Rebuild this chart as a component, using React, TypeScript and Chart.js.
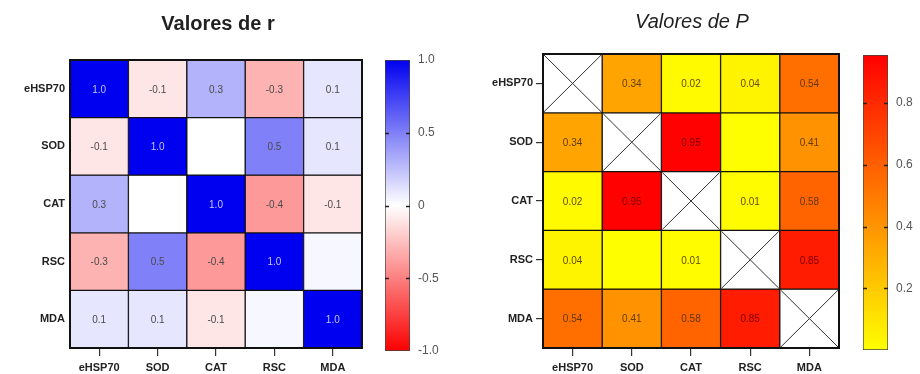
import { useEffect, useRef } from 'react';
import { Chart, registerables } from 'chart.js';

Chart.register(...registerables);

const FONT = 'Liberation Sans, Arial, Helvetica, sans-serif';
Chart.defaults.font.family = FONT;

// ---------- data ----------
const CATEGORIES = ['eHSP70', 'SOD', 'CAT', 'RSC', 'MDA'];

const R_EHSP70 = [1.0, -0.1, 0.3, -0.3, 0.1];
const R_SOD = [-0.1, 1.0, 0.0, 0.5, 0.1];
const R_CAT = [0.3, 0.0, 1.0, -0.4, -0.1];
const R_RSC = [-0.3, 0.5, -0.4, 1.0, 0.03];
const R_MDA = [0.1, 0.1, -0.1, 0.03, 1.0];
const R_MATRIX = [R_EHSP70, R_SOD, R_CAT, R_RSC, R_MDA];

const P_EHSP70 = [null, 0.34, 0.02, 0.04, 0.54];
const P_SOD = [0.34, null, 0.95, 0.004, 0.41];
const P_CAT = [0.02, 0.95, null, 0.01, 0.58];
const P_RSC = [0.04, 0.004, 0.01, null, 0.85];
const P_MDA = [0.54, 0.41, 0.58, 0.85, null];
const P_MATRIX = [P_EHSP70, P_SOD, P_CAT, P_RSC, P_MDA];

const R_RANGE = [-1, 1];
const R_TICKS = [-1, -0.5, 0, 0.5, 1];
const R_TICK_LABELS = ['-1.0', '-0.5', '0', '0.5', '1.0'];

const P_RANGE = [0, 0.956];
const P_TICKS = [0.2, 0.4, 0.6, 0.8];
const P_TICK_LABELS = ['0.2', '0.4', '0.6', '0.8'];

const TITLE_R = 'Valores de r';
const TITLE_P = 'Valores de P';

// ---------- colour maps ----------
const mix = (a: number[], b: number[], t: number) =>
  `rgb(${Math.round(a[0] + (b[0] - a[0]) * t)},${Math.round(a[1] + (b[1] - a[1]) * t)},${Math.round(a[2] + (b[2] - a[2]) * t)})`;

const WHITE = [255, 255, 255];
const BLUE = [0, 0, 240];
const RED = [250, 0, 0];
const YELLOW = [255, 255, 0];

const rColor = (v: number | null) => {
  if (v == null) return '#fff';
  const t = Math.max(-1, Math.min(1, v));
  return t >= 0 ? mix(WHITE, BLUE, t) : mix(WHITE, RED, -t);
};
const pColor = (v: number | null) => {
  if (v == null) return '#fff';
  const t = Math.max(0, Math.min(1, (v - P_RANGE[0]) / (P_RANGE[1] - P_RANGE[0])));
  return mix(YELLOW, [255, 0, 0], t);
};

// ---------- heatmap config ----------
type HeatOpts = {
  matrix: (number | null)[][];
  colorFn: (v: number | null) => string;
  labelFn: (v: number) => string | null;
  textColorFn: (v: number) => string;
  title: string;
  titleFont: any;
  titlePad: { top: number; bottom: number };
  yWidth: number;
  rightWidth: number;
  yTicks: boolean;
};

function heatmapConfig(o: HeatOpts): any {
  const n = CATEGORIES.length;
  const axisFont = { size: 11, weight: 'bold' as const, family: FONT };
  const cellPlugin = {
    id: 'cells',
    afterDatasetsDraw(chart: any) {
      const ctx = chart.ctx;
      ctx.save();
      chart.data.datasets.forEach((ds: any, r: number) => {
        const meta = chart.getDatasetMeta(r);
        meta.data.forEach((el: any, c: number) => {
          const v = ds.values[c];
          const p = el.getProps(['x', 'y', 'base', 'width'], true);
          const top = Math.min(p.y, p.base);
          const bottom = Math.max(p.y, p.base);
          const left = p.x - p.width / 2;
          const right = p.x + p.width / 2;
          if (v == null) {
            ctx.strokeStyle = '#333';
            ctx.lineWidth = 1;
            ctx.beginPath();
            ctx.moveTo(left + 1, top + 1);
            ctx.lineTo(right - 1, bottom - 1);
            ctx.moveTo(right - 1, top + 1);
            ctx.lineTo(left + 1, bottom - 1);
            ctx.stroke();
          } else {
            const txt = o.labelFn(v);
            if (txt) {
              ctx.fillStyle = o.textColorFn(v);
              ctx.font = `10px ${FONT}`;
              ctx.textAlign = 'center';
              ctx.textBaseline = 'middle';
              ctx.fillText(txt, p.x, (top + bottom) / 2 + 1);
            }
          }
        });
      });
      const a = chart.chartArea;
      ctx.strokeStyle = '#111';
      ctx.lineWidth = 2;
      ctx.strokeRect(a.left, a.top, a.right - a.left, a.bottom - a.top);
      ctx.restore();
    },
  };

  return {
    type: 'bar',
    data: {
      labels: CATEGORIES,
      datasets: o.matrix.map((row, r) => ({
        label: CATEGORIES[r],
        values: row,
        data: row.map(() => [r - 0.5, r + 0.5]),
        backgroundColor: row.map(o.colorFn),
        borderColor: '#111',
        borderWidth: 1,
        borderSkipped: false,
        grouped: false,
        barPercentage: 1,
        categoryPercentage: 1,
      })),
    },
    options: {
      responsive: false,
      animation: false,
      events: [],
      layout: { padding: { left: 0, right: 0, top: 0, bottom: 0 } },
      plugins: {
        legend: { display: false },
        tooltip: { enabled: false },
        title: {
          display: true,
          text: o.title,
          color: '#222',
          font: o.titleFont,
          padding: o.titlePad,
        },
      },
      scales: {
        x: {
          type: 'category',
          offset: true,
          grid: { offset: false, drawOnChartArea: false, drawTicks: true, tickLength: 8, color: '#333', lineWidth: 1.2 },
          border: { display: false },
          ticks: { font: axisFont, color: '#222', padding: 5, maxRotation: 0, autoSkip: false },
          afterFit: (s: any) => { s.height = 26; },
        },
        y: {
          type: 'linear',
          reverse: true,
          min: -0.5,
          max: n - 0.5,
          afterBuildTicks: (s: any) => { s.ticks = CATEGORIES.map((_, i) => ({ value: i })); },
          grid: { drawOnChartArea: false, drawTicks: o.yTicks, tickLength: 7, color: '#333', lineWidth: 1.2 },
          border: { display: false },
          ticks: {
            font: axisFont,
            color: '#222',
            padding: o.yTicks ? 3 : 5,
            callback: (v: any) => CATEGORIES[v],
          },
          afterFit: (s: any) => { s.width = o.yWidth; },
        },
        yRight: {
          type: 'linear',
          position: 'right',
          display: true,
          grid: { display: false },
          border: { display: false },
          ticks: { display: false },
          afterFit: (s: any) => { s.width = o.rightWidth; },
        },
      },
    },
    plugins: [cellPlugin],
  };
}

// ---------- colour bar config ----------
type BarOpts = {
  range: number[];
  ticks: number[];
  labels: string[];
  colorFn: (v: number) => string;
  padLeft: number;
  padTop: number;
  padBottom: number;
  axisWidth: number;
};

function colorbarConfig(o: BarOpts): any {
  const tickPlugin = {
    id: 'innerTicks',
    afterDatasetsDraw(chart: any) {
      const ctx = chart.ctx;
      const a = chart.chartArea;
      const ys = chart.scales.y;
      ctx.save();
      ctx.strokeStyle = '#222';
      ctx.lineWidth = 1.5;
      o.ticks.forEach((v) => {
        const y = Math.round(ys.getPixelForValue(v)) + 0.5;
        if (y <= a.top + 2 || y >= a.bottom - 2) return;
        ctx.beginPath();
        ctx.moveTo(a.left, y);
        ctx.lineTo(a.left + 4, y);
        ctx.moveTo(a.right - 4, y);
        ctx.lineTo(a.right, y);
        ctx.stroke();
      });
      ctx.restore();
    },
  };
  return {
    type: 'bar',
    data: {
      labels: [''],
      datasets: [
        {
          data: [[o.range[0], o.range[1]]],
          backgroundColor: (c: any) => {
            const chart = c.chart;
            if (!chart.chartArea) return '#fff';
            const ys = chart.scales.y;
            const g = chart.ctx.createLinearGradient(0, ys.getPixelForValue(o.range[0]), 0, ys.getPixelForValue(o.range[1]));
            const steps = 24;
            for (let k = 0; k <= steps; k++) {
              const v = o.range[0] + ((o.range[1] - o.range[0]) * k) / steps;
              g.addColorStop(k / steps, o.colorFn(v));
            }
            return g;
          },
          borderColor: '#444',
          borderWidth: 1,
          borderSkipped: false,
          barPercentage: 1,
          categoryPercentage: 1,
        },
      ],
    },
    options: {
      responsive: false,
      animation: false,
      events: [],
      layout: { padding: { left: o.padLeft, right: 0, top: o.padTop, bottom: o.padBottom } },
      plugins: { legend: { display: false }, tooltip: { enabled: false }, title: { display: false } },
      scales: {
        x: { display: false, offset: true },
        y: {
          position: 'right',
          min: o.range[0],
          max: o.range[1],
          afterBuildTicks: (s: any) => { s.ticks = o.ticks.map((v) => ({ value: v })); },
          grid: { display: false, drawTicks: false },
          border: { display: false },
          ticks: {
            font: { size: 12, family: FONT },
            color: '#555',
            padding: 8,
            callback: (_v: any, i: number) => o.labels[i],
          },
          afterFit: (s: any) => { s.width = o.axisWidth; },
        },
      },
    },
    plugins: [tickPlugin],
  };
}

// ---------- components ----------
function ChartCanvas({ config, left, top, width, height }: { config: any; left: number; top: number; width: number; height: number }) {
  const ref = useRef<HTMLCanvasElement | null>(null);
  useEffect(() => {
    if (!ref.current) return;
    const chart = new Chart(ref.current, config);
    return () => chart.destroy();
  }, [config]);
  return (
    <canvas
      ref={ref}
      width={width}
      height={height}
      style={{ position: 'absolute', left, top, width, height }}
    />
  );
}

const leftHeat = heatmapConfig({
  matrix: R_MATRIX,
  colorFn: rColor,
  labelFn: (v) => (Math.abs(v) >= 0.05 ? v.toFixed(1) : null),
  textColorFn: (v) => (v > 0.7 ? '#c4c4ff' : '#4a4a4a'),
  title: TITLE_R,
  titleFont: { size: 20, weight: 'bold', family: FONT },
  titlePad: { top: 12, bottom: 24 },
  yWidth: 70,
  rightWidth: 74,
  yTicks: false,
});

const rightHeat = heatmapConfig({
  matrix: P_MATRIX,
  colorFn: pColor,
  labelFn: (v) => (v >= 0.005 ? v.toFixed(2) : null),
  textColorFn: (v) => (v > 0.8 ? '#7a0000' : 'rgba(70,45,0,0.85)'),
  title: TITLE_P,
  titleFont: { size: 20, style: 'italic', weight: 'normal', family: FONT },
  titlePad: { top: 10, bottom: 20 },
  yWidth: 73,
  rightWidth: 75,
  yTicks: true,
});

const leftBar = colorbarConfig({
  range: R_RANGE,
  ticks: R_TICKS,
  labels: R_TICK_LABELS,
  colorFn: rColor,
  padLeft: 10,
  padTop: 60,
  padBottom: 23,
  axisWidth: 35,
});

const rightBar = colorbarConfig({
  range: P_RANGE,
  ticks: P_TICKS,
  labels: P_TICK_LABELS,
  colorFn: pColor,
  padLeft: 10,
  padTop: 55,
  padBottom: 24,
  axisWidth: 32,
});

export default function App() {
  return (
    <div style={{ position: 'fixed', left: 0, top: 0, width: 920, height: 374, background: '#fff', overflow: 'hidden' }}>
      <ChartCanvas config={leftHeat} left={0} top={0} width={436} height={374} />
      <ChartCanvas config={leftBar} left={375} top={0} width={70} height={374} />
      <ChartCanvas config={rightHeat} left={470} top={0} width={444} height={374} />
      <ChartCanvas config={rightBar} left={853} top={0} width={67} height={374} />
    </div>
  );
}
